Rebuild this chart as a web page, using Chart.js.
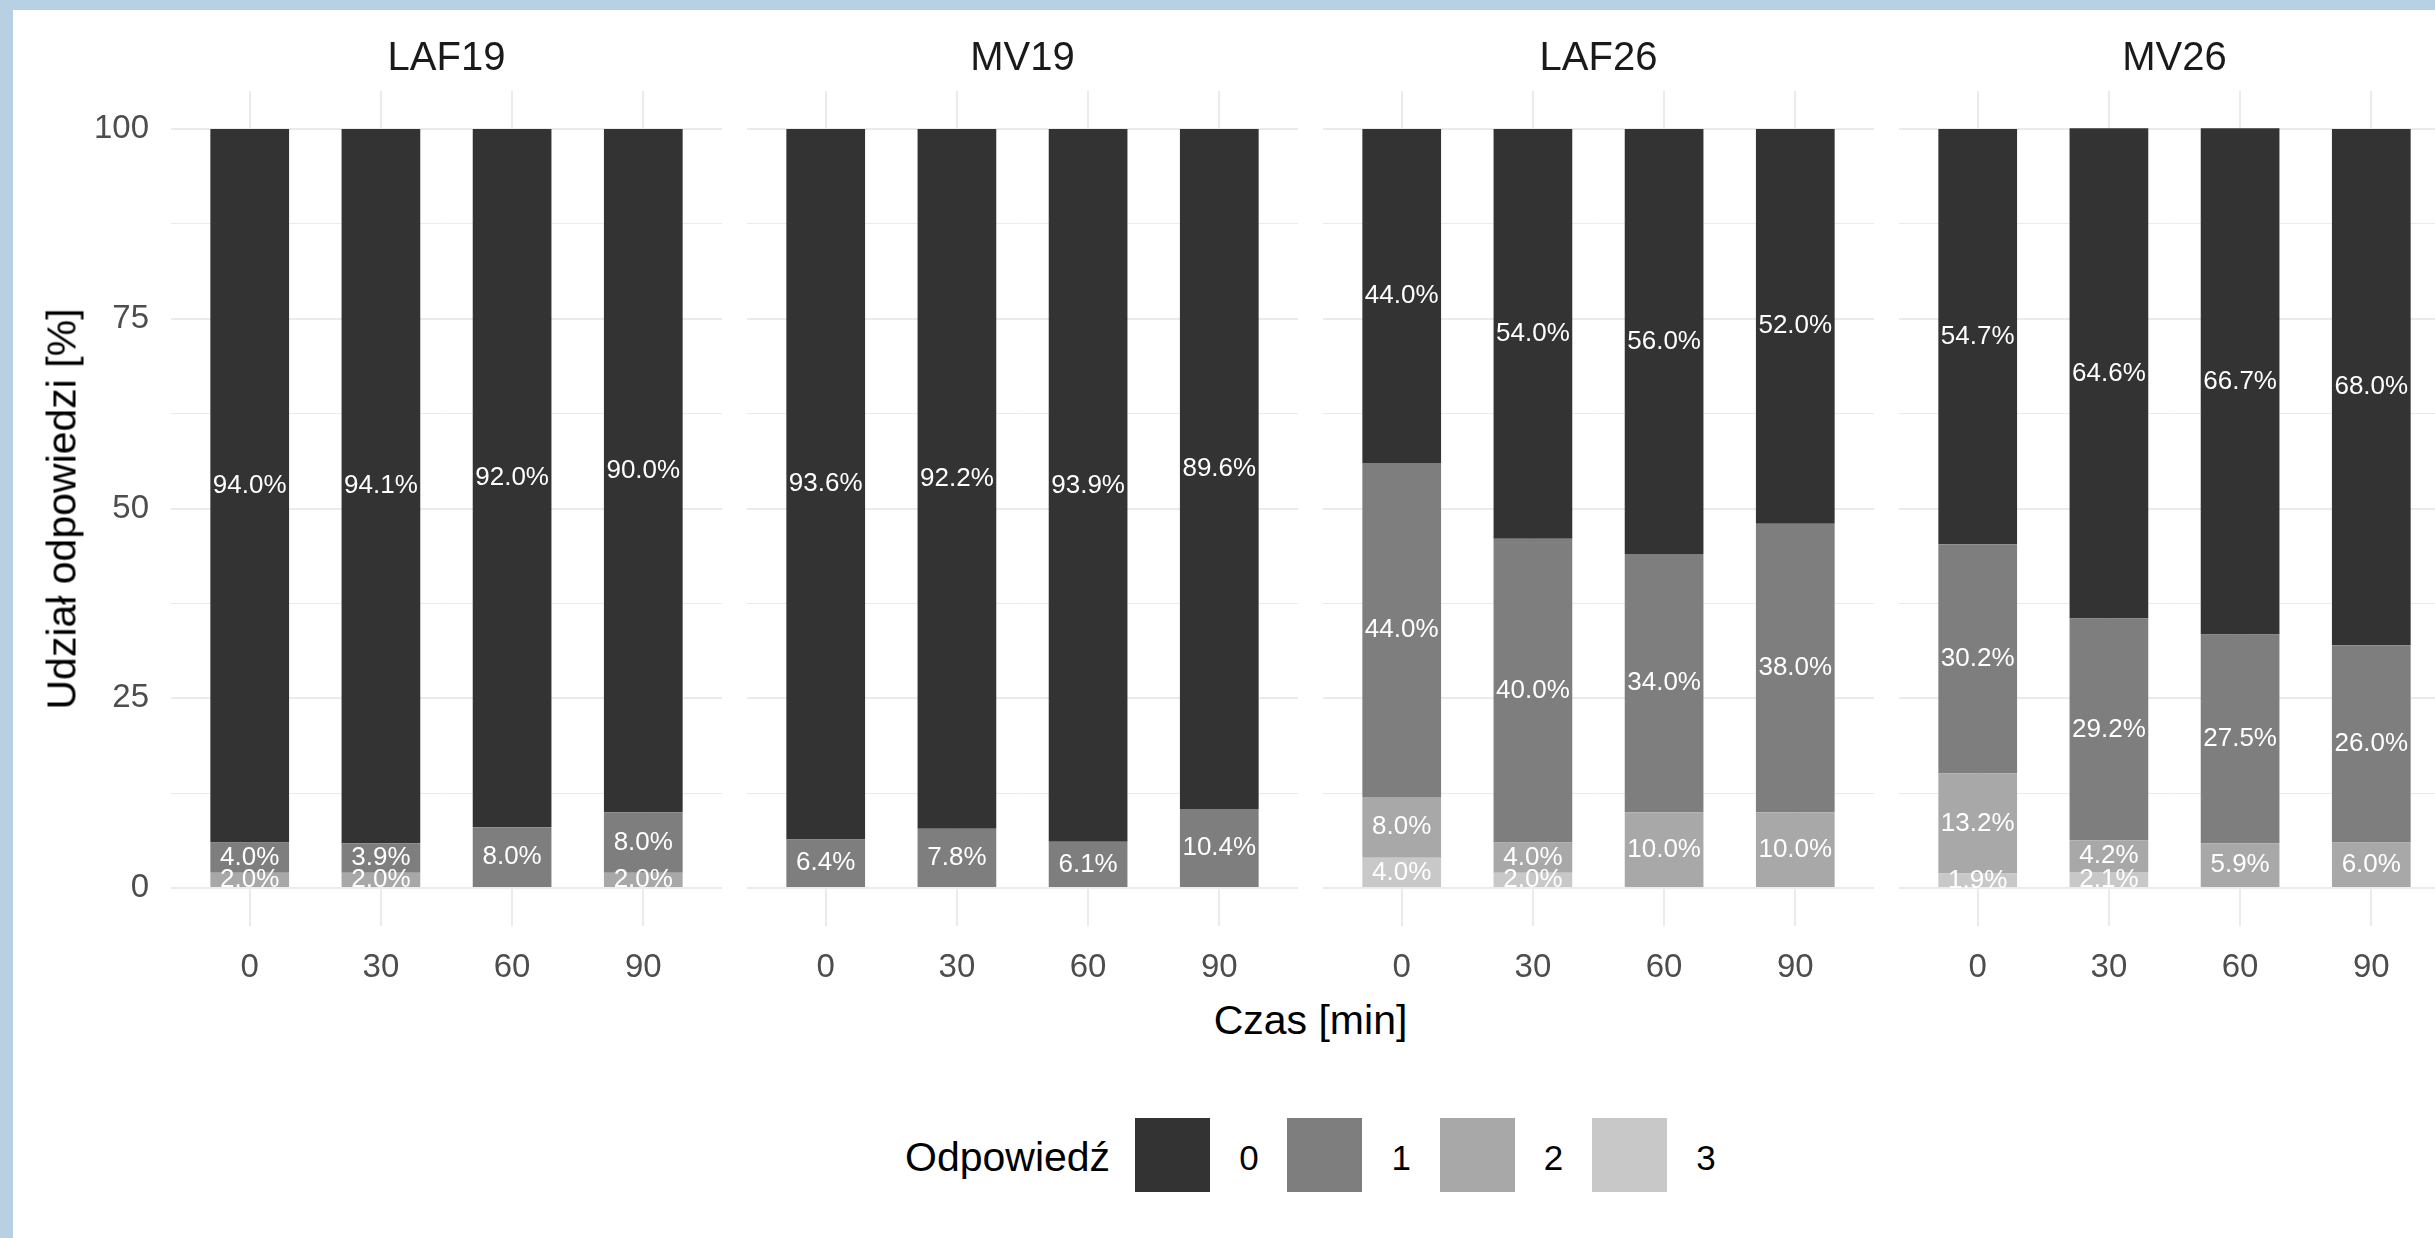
<!DOCTYPE html>
<html>
<head>
<meta charset="utf-8">
<script src="https://cdn.jsdelivr.net/npm/chart.js@4.4.1/dist/chart.umd.min.js"></script>
<style>
  html, body { margin: 0; padding: 0; width: 2435px; height: 1238px; overflow: hidden; background: #b8d0e4; }
  #page { position: absolute; left: 13px; top: 10px; width: 2422px; height: 1228px; background: #ffffff; }
  #stage { position: absolute; left: 0; top: 0; width: 2435px; height: 1238px; font-family: "Liberation Sans", Arial, sans-serif; }
  .panel { position: absolute; }
  .strip { position: absolute; font-size: 40px; color: #1a1a1a; text-align: center; width: 551px; line-height: 40px; }
  .ytitle { position: absolute; font-size: 41px; color: #000; white-space: nowrap; transform: translate(-50%, -50%) rotate(-90deg); line-height: 41px; }
  .xtitle { position: absolute; font-size: 41px; color: #000; white-space: nowrap; transform: translate(-50%, -50%); line-height: 41px; }
  .legtitle { position: absolute; font-size: 41px; color: #000; white-space: nowrap; line-height: 41px; transform: translateY(-50%); }
  .legbox { position: absolute; width: 75px; height: 74px; }
  .leglab { position: absolute; font-size: 35px; color: #000; line-height: 35px; transform: translate(-50%, -50%); }
</style>
</head>
<body>
<div id="page"></div>
<div id="stage"></div>
<script>
// ---- data (percent share of each response, per time point) ----
const facets = ['LAF19', 'MV19', 'LAF26', 'MV26'];
const times = ['0', '30', '60', '90'];
const responses = ['0', '1', '2', '3'];
const responseColors = ['#333333', '#7e7e7e', '#a8a8a8', '#c8c8c8'];

// rows: response 0,1,2,3 ; columns: time 0,30,60,90
const LAF19 = [
  [94.0, 94.1, 92.0, 90.0],
  [4.0, 3.9, 8.0, 8.0],
  [2.0, 2.0, 0, 2.0],
  [0, 0, 0, 0]
];
const MV19 = [
  [93.6, 92.2, 93.9, 89.6],
  [6.4, 7.8, 6.1, 10.4],
  [0, 0, 0, 0],
  [0, 0, 0, 0]
];
const LAF26 = [
  [44.0, 54.0, 56.0, 52.0],
  [44.0, 40.0, 34.0, 38.0],
  [8.0, 4.0, 10.0, 10.0],
  [4.0, 2.0, 0, 0]
];
const MV26 = [
  [54.7, 64.6, 66.7, 68.0],
  [30.2, 29.2, 27.5, 26.0],
  [13.2, 4.2, 5.9, 6.0],
  [1.9, 2.1, 0, 0]
];
const facetData = [LAF19, MV19, LAF26, MV26];
const yMajorTicks = [0, 25, 50, 75, 100];

// ---- layout ----
const FONT = '"Liberation Sans", Arial, sans-serif';
const panelLeft = 171, panelWidth = 551, panelGap = 25;
const panelTop = 91, panelBottom = 926;
const padTop = 60, xAxisH = 70;
const canvasTop = panelTop - padTop;
const canvasH = padTop + (panelBottom - panelTop) + xAxisH;

const stage = document.getElementById('stage');

const barLabels = {
  id: 'barLabels',
  afterDatasetsDraw(chart) {
    const ctx = chart.ctx;
    ctx.save();
    ctx.font = '26px ' + FONT;
    ctx.fillStyle = '#ffffff';
    ctx.textAlign = 'center';
    ctx.textBaseline = 'middle';
    chart.data.datasets.forEach((ds, di) => {
      const meta = chart.getDatasetMeta(di);
      meta.data.forEach((el, j) => {
        const v = ds.data[j];
        if (!v) return;
        const p = el.getProps(['x', 'y', 'base'], true);
        ctx.fillText(v.toFixed(1) + '%', p.x, (p.y + p.base) / 2);
      });
    });
    ctx.restore();
  }
};

// minor gridlines halfway between majors
const yAllTicks = [];
yMajorTicks.forEach((v, i) => {
  yAllTicks.push(v);
  if (i < yMajorTicks.length - 1) yAllTicks.push((v + yMajorTicks[i + 1]) / 2);
});

facets.forEach((name, fi) => {
  const pLeft = panelLeft + fi * (panelWidth + panelGap);
  const first = fi === 0;
  const left = first ? 0 : pLeft;
  const width = first ? pLeft + panelWidth : panelWidth;

  const wrap = document.createElement('div');
  wrap.className = 'panel';
  wrap.style.left = left + 'px';
  wrap.style.top = canvasTop + 'px';
  wrap.style.width = width + 'px';
  wrap.style.height = canvasH + 'px';
  const cv = document.createElement('canvas');
  cv.width = width; cv.height = canvasH;
  cv.style.width = width + 'px'; cv.style.height = canvasH + 'px';
  wrap.appendChild(cv);
  stage.appendChild(wrap);

  const strip = document.createElement('div');
  strip.className = 'strip';
  strip.textContent = name;
  strip.style.left = pLeft + 'px';
  strip.style.top = (56 - 20) + 'px';
  stage.appendChild(strip);

  const rows = facetData[fi];
  // stack bottom-up: response 3 at bottom, response 0 on top
  const datasets = responses.map((r, ri) => ({
    label: r,
    data: rows[ri],
    backgroundColor: responseColors[ri],
    borderWidth: 0,
    barPercentage: 0.6,
    categoryPercentage: 1.0
  })).reverse();

  new Chart(cv, {
    type: 'bar',
    data: { labels: times.map((t, i) => i + 1), datasets },
    options: {
      responsive: false,
      animation: false,
      devicePixelRatio: 1,
      layout: { padding: { top: padTop, left: 0, right: 0, bottom: 0 } },
      plugins: { legend: { display: false }, tooltip: { enabled: false }, title: { display: false } },
      scales: {
        x: {
          type: 'linear', stacked: true, min: 0.4, max: times.length + 0.6,
          offset: false,
          afterBuildTicks: s => { s.ticks = times.map((t, i) => ({ value: i + 1 })); },
          afterFit: s => { s.height = xAxisH; },
          ticks: {
            callback: v => times[Math.round(v) - 1],
            font: { family: FONT, size: 33 }, color: '#4d4d4d',
            padding: 22, autoSkip: false, maxRotation: 0, minRotation: 0
          },
          grid: { color: '#ebebeb', lineWidth: 2, drawTicks: false, offset: false },
          border: { display: false }
        },
        y: {
          stacked: true, min: -5, max: 105,
          afterBuildTicks: s => { s.ticks = yAllTicks.map(v => ({ value: v })); },
          afterFit: s => { s.width = first ? pLeft : 0; },
          ticks: {
            display: first,
            callback: v => yMajorTicks.includes(v) ? String(v) : '',
            font: { family: FONT, size: 33 }, color: '#4d4d4d', padding: 22
          },
          grid: {
            color: '#ebebeb', drawTicks: false,
            lineWidth: c => (c.tick && yMajorTicks.includes(c.tick.value)) ? 2 : 1
          },
          border: { display: false }
        }
      }
    },
    plugins: [barLabels]
  });
});

// axis titles
const yt = document.createElement('div');
yt.className = 'ytitle';
yt.textContent = 'Udział odpowiedzi [%]';
yt.style.left = '62px';
yt.style.top = ((panelTop + panelBottom) / 2) + 'px';
stage.appendChild(yt);

const xt = document.createElement('div');
xt.className = 'xtitle';
xt.textContent = 'Czas [min]';
const fullRight = panelLeft + facets.length * panelWidth + (facets.length - 1) * panelGap;
xt.style.left = ((panelLeft + fullRight) / 2) + 'px';
xt.style.top = '1020px';
stage.appendChild(xt);

// legend
const lt = document.createElement('div');
lt.className = 'legtitle';
lt.textContent = 'Odpowiedź';
lt.style.left = '905px';
lt.style.top = '1157px';
stage.appendChild(lt);
responses.forEach((r, i) => {
  const bx = 1135 + i * 152.3;
  const b = document.createElement('div');
  b.className = 'legbox';
  b.style.left = bx + 'px';
  b.style.top = '1118px';
  b.style.background = responseColors[i];
  stage.appendChild(b);
  const l = document.createElement('div');
  l.className = 'leglab';
  l.textContent = r;
  l.style.left = (bx + 114) + 'px';
  l.style.top = '1157px';
  stage.appendChild(l);
});
</script>
</body>
</html>
